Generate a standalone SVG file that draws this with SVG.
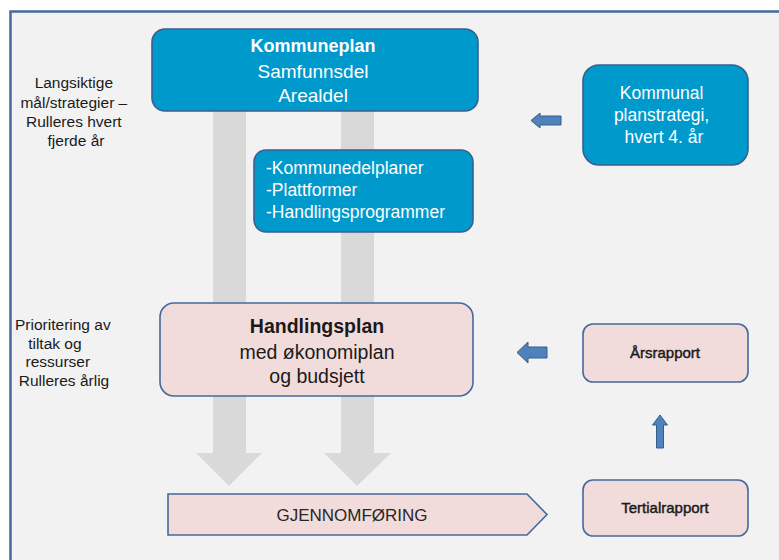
<svg xmlns="http://www.w3.org/2000/svg" width="779" height="560" viewBox="0 0 779 560">
<style>
.t{font-family:"Liberation Sans",Arial,sans-serif}
.w{fill:#ffffff}
.d{fill:#1a1a1a}
.blue{fill:#0099cc;stroke:#3a5f8e;stroke-width:1.6}
.pink{fill:#f2dcdb;stroke:#44699b;stroke-width:1.6}
.garrow{fill:#d9d9d9}
.barrow{fill:#4f81bd;stroke:#385d8a;stroke-width:1}
.semi{stroke:#1a1a1a;stroke-width:0.45}
</style>
<rect x="0" y="0" width="779" height="560" fill="#ffffff"/>
<rect x="10.5" y="11.5" width="780" height="560" fill="#f2f2f2" stroke="#44699b" stroke-width="2.5"/>

<g id="connectors">
  <polygon class="garrow" points="213,111 246,111 246,453 262,453 229,486 196,453 213,453"/>
  <polygon class="garrow" points="341,111 374,111 374,453 391,453 357,486 324,453 341,453"/>
  <polygon class="barrow" points="531,120.5 540,113 540,116 561,116 561,125 540,125 540,128"/>
  <polygon class="barrow" points="517,352.5 528,342 528,347 547,347 547,358 528,358 528,363"/>
  <polygon class="barrow" points="660,415 667.5,425 663.5,425 663.5,448 656.5,448 656.5,425 652.5,425"/>
</g>

<g id="label-langsiktige">
  <text class="t d" font-size="15.5" text-anchor="middle">
    <tspan x="76" y="88">Langsiktige</tspan>
    <tspan x="76" y="108">mål/strategier –</tspan>
    <tspan x="76" y="127">Rulleres hvert</tspan>
    <tspan x="76" y="146">fjerde år</tspan>
  </text>
</g>

<g id="label-prioritering">
  <text class="t d" font-size="15.5" text-anchor="middle">
    <tspan x="65" y="330">Prioritering av</tspan>
    <tspan x="57" y="349">tiltak og</tspan>
    <tspan x="60" y="367">ressurser</tspan>
    <tspan x="64" y="386">Rulleres årlig</tspan>
  </text>
</g>

<g id="kommuneplan">
  <rect class="blue" x="152" y="29" width="326" height="82" rx="13"/>
  <text class="t w" font-size="18" font-weight="bold" text-anchor="middle" x="313" y="52">Kommuneplan</text>
  <text class="t w" font-size="19" text-anchor="middle" x="313" y="78">Samfunnsdel</text>
  <text class="t w" font-size="19" text-anchor="middle" x="313" y="102">Arealdel</text>
</g>

<g id="kommunedelplaner">
  <rect class="blue" x="254" y="150" width="219" height="82" rx="12"/>
  <text class="t w" font-size="17.5">
    <tspan x="266" y="174">-Kommunedelplaner</tspan>
    <tspan x="266" y="196">-Plattformer</tspan>
    <tspan x="266" y="218">-Handlingsprogrammer</tspan>
  </text>
</g>

<g id="planstrategi">
  <rect class="blue" x="583" y="65" width="165" height="100" rx="16"/>
  <text class="t w" font-size="17.5" text-anchor="middle">
    <tspan x="664" y="99">Kommunal</tspan>
    <tspan x="664" y="121">planstrategi,</tspan>
    <tspan x="664" y="143">hvert 4. år</tspan>
  </text>
</g>

<g id="handlingsplan">
  <rect class="pink" x="160" y="303" width="313" height="93" rx="14"/>
  <text class="t d" font-size="19.5" font-weight="bold" text-anchor="middle" x="317" y="333">Handlingsplan</text>
  <text class="t d" font-size="19.5" text-anchor="middle" x="317" y="359">med økonomiplan</text>
  <text class="t d" font-size="19.5" text-anchor="middle" x="317" y="383">og budsjett</text>
</g>

<g id="arsrapport">
  <rect class="pink" x="583" y="324" width="165" height="58" rx="10"/>
  <text class="t d semi" font-size="15" text-anchor="middle" x="665" y="358">Årsrapport</text>
</g>

<g id="tertialrapport">
  <rect class="pink" x="583" y="480" width="165" height="56" rx="10"/>
  <text class="t d semi" font-size="15" text-anchor="middle" x="665" y="513">Tertialrapport</text>
</g>

<g id="gjennomforing">
  <polygon class="pink" points="168,494 527,494 547,514.5 527,535 168,535"/>
  <text class="t" fill="#262626" font-size="17" text-anchor="middle" x="352" y="521">GJENNOMFØRING</text>
</g>
</svg>
